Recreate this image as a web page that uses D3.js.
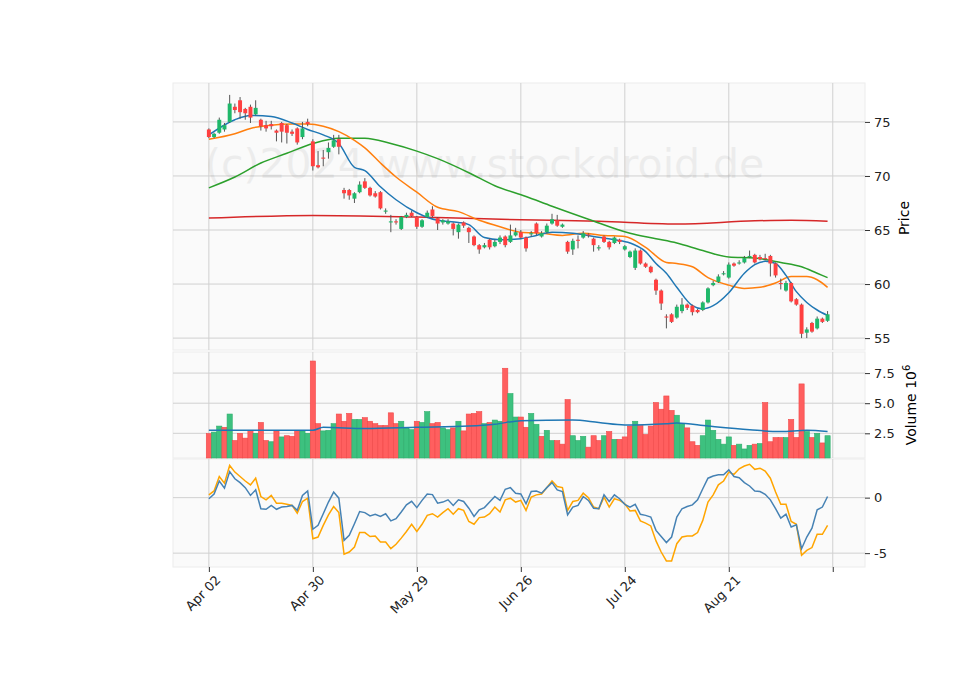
<!DOCTYPE html>
<html>
<head>
<meta charset="utf-8">
<script src="https://cdn.jsdelivr.net/npm/d3@7"></script>
<style>
  body { margin: 0; background: #fff; }
  text { font-family: "DejaVu Sans", sans-serif; }
</style>
</head>
<body>
<svg id="chart" width="960" height="690"></svg>
<script>
// OHLC values per trading day (index 0 = Apr 02)
const opens = [74.3,73.6,74.0,74.3,75.0,76.4,77.0,76.2,76.4,75.7,75.2,74.7,74.8,74.2,74.9,74.7,74.1,74.4,73.6,75.0,
  73.2,71.0,71.7,72.2,72.7,73.4,68.7,68.7,67.9,68.5,69.5,68.9,68.4,68.5,66.7,65.7,65.8,65.1,66.2,66.6,
  66.2,65.3,66.2,66.9,66.1,65.7,65.6,65.6,64.8,65.7,65.2,64.4,63.6,63.4,64.1,63.5,63.9,64.4,63.9,64.5,
  64.8,64.3,64.6,65.6,64.4,64.8,65.6,65.9,65.3,63.9,63.2,64.1,64.3,64.6,64.2,63.3,64.4,63.9,63.8,64.1,
  63.2,62.5,61.5,63.1,61.9,61.6,60.4,59.4,57.0,57.2,56.9,57.5,58.1,58.0,57.6,57.6,58.3,59.9,60.2,60.9,
  60.6,61.9,61.9,62.0,62.5,62.7,62.5,62.4,62.6,61.9,60.1,59.4,60.1,58.6,58.1,55.5,56.4,55.9,56.8,56.6];
const closes = [73.6,73.9,75.2,74.7,76.7,76.1,75.9,75.8,75.4,76.3,74.6,74.4,74.6,74.0,74.1,74.0,73.9,73.1,74.4,74.8,
  70.9,70.8,71.6,72.6,73.3,72.7,68.4,68.2,68.4,69.2,68.9,68.2,68.1,67.0,66.8,65.8,65.7,66.2,66.4,66.3,
  65.3,65.9,66.6,66.3,65.6,65.9,65.8,65.1,65.5,65.4,64.8,63.6,63.2,63.6,63.4,63.9,64.3,63.6,64.5,64.8,
  64.3,63.3,64.7,64.7,64.7,65.4,66.0,65.4,65.5,63.0,64.0,64.0,64.7,64.5,63.6,63.4,63.9,63.4,64.3,63.9,
  63.5,63.0,63.1,61.9,61.6,61.1,59.4,58.2,56.9,56.5,57.9,58.1,57.8,57.4,57.4,58.3,59.6,60.1,60.7,61.0,
  61.8,61.7,62.0,62.4,62.6,62.0,62.3,62.3,61.9,60.8,60.0,60.1,58.4,58.1,55.4,55.8,55.6,56.8,56.5,57.2];
const highs = [74.4,74.0,75.4,74.9,77.5,76.7,77.3,76.3,76.6,77.0,75.3,75.1,75.1,74.3,75.0,74.8,74.3,74.5,75.0,75.3,
  73.4,72.3,72.4,73.1,73.8,73.8,68.9,68.8,68.5,69.5,69.8,69.0,68.6,68.6,67.0,66.4,66.0,66.3,66.6,66.8,
  66.3,66.0,66.8,67.2,66.2,66.0,66.0,65.7,65.6,65.8,65.3,64.5,63.7,63.8,64.2,64.1,64.5,64.5,65.5,65.2,
  65.0,64.4,64.9,65.7,64.9,65.6,66.5,66.4,65.6,64.0,64.2,64.5,64.9,64.7,64.3,63.6,64.5,64.0,64.4,64.2,
  63.6,63.1,63.3,63.2,62.0,61.7,60.5,59.5,57.2,57.3,58.1,58.7,58.2,58.1,57.7,58.4,59.7,60.3,60.9,61.2,
  62.0,62.0,62.2,62.6,63.1,62.8,62.7,62.8,62.7,62.0,60.5,60.3,60.2,58.7,58.2,56.0,56.5,57.0,56.9,57.5];
const lows = [73.5,73.5,73.9,74.1,74.9,75.8,75.3,75.2,74.9,75.6,74.2,74.1,74.3,73.2,73.1,73.0,73.7,72.9,73.4,74.6,
  70.5,70.7,70.9,71.6,72.6,72.0,67.9,67.8,67.5,68.4,68.8,68.1,68.0,66.9,66.5,64.8,65.5,65.0,66.1,66.2,
  65.1,65.2,66.1,66.2,65.0,65.5,65.5,64.5,64.2,65.2,63.8,63.5,62.8,63.3,63.2,63.4,63.7,63.4,63.8,64.4,
  64.2,63.0,64.4,64.5,64.3,64.7,65.5,65.3,65.2,62.8,62.7,63.3,64.2,64.3,63.0,63.1,63.8,63.2,63.7,63.7,
  63.1,62.4,61.3,61.8,61.5,61.0,59.0,57.6,55.9,56.4,56.8,57.3,57.6,57.1,57.3,57.5,58.2,59.8,60.1,60.8,
  60.5,61.6,61.8,61.9,62.4,61.9,62.2,62.2,60.7,60.6,59.5,59.3,58.3,58.0,55.0,55.0,55.5,55.8,56.4,56.5];

// volume in millions
const volumes = [2.47,2.6,3.1,3.0,4.1,1.9,2.5,2.1,2.75,2.5,3.4,1.9,1.8,2.7,2.2,2.3,2.25,2.75,2.7,2.5,
  8.5,3.3,2.7,2.75,3.3,4.1,3.5,4.15,3.65,3.65,3.8,3.5,3.3,3.15,3.15,4.2,3.3,3.5,2.95,2.8,
  3.5,3.4,4.3,3.3,3.4,2.95,2.8,2.95,3.5,2.7,4.1,4.15,4.3,3.3,3.4,3.6,3.5,7.9,5.8,3.85,
  3.85,3.0,4.15,3.25,2.25,2.75,1.9,1.9,1.6,5.3,2.3,1.9,2.25,1.35,2.3,1.9,2.3,2.65,2.0,2.0,
  2.2,3.1,3.5,3.15,2.4,3.1,5.05,4.5,5.6,4.4,4.0,3.3,2.95,1.8,1.5,2.3,3.6,2.75,2.0,1.6,
  2.2,1.5,1.6,1.2,1.5,1.6,1.65,5.05,1.8,2.15,2.15,2.15,3.65,2.15,6.6,2.65,2.15,2.5,1.7,2.3];
// volume bar colours as drawn (1 = up/green)
const volUp = [0,1,1,0,1,0,0,0,0,1,0,0,1,0,1,0,0,0,1,1,
  0,0,1,1,1,0,0,0,1,1,0,0,0,0,0,0,0,1,1,1,
  0,1,1,0,0,1,1,0,1,0,0,0,0,1,0,1,1,0,1,1,
  0,0,1,1,0,1,1,0,0,0,1,1,1,0,0,0,1,0,1,0,
  0,0,1,0,0,0,0,0,0,0,1,1,0,0,0,1,1,1,1,1,
  1,0,1,1,1,0,1,0,0,0,0,1,0,0,0,1,0,1,0,1];
const volMA = [[0,2.75],[20,2.75],[22,3.0],[30,2.9],[40,3.0],[50,3.1],[55,3.25],[60,3.55],[70,3.6],
  [75,3.4],[80,3.2],[88,3.3],[90,3.35],[96,3.1],[104,2.8],[110,2.65],[115,2.75],[119,2.65]];

// moving averages [day index, value]
const ma1 = [[0,73.8],[5,75.2],[8,75.6],[12,75.5],[16,74.9],[19,74.3],[22,73.8],[25,73.0],[28,70.8],[30,70.5],
  [33,69.0],[36,67.8],[40,66.6],[44,65.9],[48,65.7],[50,65.5],[53,64.3],[56,64.1],[60,64.2],[63,64.5],
  [66,64.8],[70,64.7],[74,64.4],[78,64.1],[81,63.8],[84,63.0],[86,61.9],[88,61.0],[90,59.7],[93,58.0],
  [95,57.7],[97,58.0],[100,59.2],[103,61.0],[105,61.8],[107,62.1],[109,61.9],[111,60.8],[113,59.3],
  [115,58.3],[117,57.6],[119,57.1]];
const ma2 = [[0,73.4],[5,73.9],[8,74.4],[12,74.7],[16,74.8],[19,74.8],[22,74.6],[25,74.1],[28,73.3],[30,72.6],
  [33,71.2],[36,69.9],[40,68.5],[44,67.1],[48,66.7],[52,65.9],[56,65.3],[60,64.8],[64,64.7],[68,64.5],
  [72,64.7],[76,64.5],[80,64.4],[84,63.4],[88,62.0],[90,61.9],[93,61.6],[96,60.6],[100,59.9],[103,59.6],
  [106,59.7],[109,60.1],[112,60.7],[115,60.7],[117,60.4],[119,59.7]];
const ma3 = [[0,68.9],[5,69.9],[10,71.2],[15,72.1],[20,73.0],[25,73.5],[30,73.5],[35,73.0],[40,72.3],[44,71.6],
  [50,70.3],[55,69.1],[61,68.1],[66,67.2],[73,66.0],[81,64.7],[86,64.2],[90,63.8],[95,63.1],[100,62.5],
  [105,62.4],[110,62.0],[114,61.6],[117,61.0],[119,60.6]];
const ma4 = [[0,66.1],[20,66.35],[40,66.2],[60,65.95],[75,65.8],[90,65.55],[105,65.85],[112,65.9],[119,65.8]];

// MACD and signal
const macd = [-0.1,0.33,1.5,0.85,2.35,1.7,1.35,0.9,0.2,0.7,-1.0,-1.05,-0.7,-1.05,-0.85,-0.8,-0.7,-1.15,0.2,0.6,
  -2.85,-2.5,-1.45,-0.4,0.5,-0.05,-3.85,-3.4,-2.35,-1.25,-1.35,-1.65,-1.5,-1.7,-1.45,-2.1,-1.9,-1.3,-0.65,-0.33,
  -0.9,-0.25,0.33,0.27,-0.5,-0.4,-0.2,-0.7,-0.2,-0.35,-0.95,-1.7,-1.1,-0.9,-0.4,0.1,-0.25,0.75,0.9,0.4,
  0.33,-0.55,0.55,0.6,0.4,0.9,1.35,0.7,0.55,-1.55,-0.85,-0.7,0.1,-0.25,-0.95,-1.0,0.25,-0.35,0.25,-0.1,
  -0.6,-0.85,-0.6,-1.5,-1.6,-1.75,-2.95,-3.5,-4.05,-3.55,-1.75,-1.0,-0.8,-0.65,-0.2,0.8,1.75,1.95,2.05,2.05,
  2.5,1.9,1.8,1.35,1.05,0.6,0.55,0.3,-0.2,-1.0,-1.85,-1.5,-2.65,-2.45,-4.6,-3.55,-2.75,-1.1,-0.85,0.1];
const signal = [0.25,0.6,1.9,1.3,2.9,2.3,1.9,1.5,1.15,1.75,0.1,-0.2,0.2,-0.5,-0.5,-0.6,-0.7,-1.4,-0.35,-0.05,
  -3.7,-3.55,-2.5,-1.55,-0.8,-1.35,-5.1,-4.9,-4.45,-3.15,-3.15,-3.5,-3.45,-4.0,-4.0,-4.6,-4.2,-3.65,-3.05,-2.4,
  -3.05,-2.4,-1.6,-1.45,-1.75,-1.35,-1.0,-1.5,-1.0,-1.15,-2.15,-2.4,-1.8,-1.75,-1.45,-0.85,-1.3,-0.2,-0.05,-0.4,
  -0.25,-1.15,0.05,0.25,0.33,0.9,1.5,1.0,0.9,-1.15,-0.35,-0.25,0.4,0.0,-0.85,-1.0,0.05,-0.85,-0.1,-0.25,
  -0.55,-1.2,-1.15,-2.1,-2.3,-2.55,-3.9,-4.9,-5.7,-5.7,-4.15,-3.55,-3.45,-3.45,-3.15,-2.05,-0.4,0.25,1.15,1.5,
  2.3,2.1,2.6,2.85,3.0,2.55,2.65,2.4,1.75,0.5,-0.6,-0.6,-2.15,-2.4,-5.2,-4.75,-4.5,-3.3,-3.3,-2.5];

const xTickIdx = [0,20,40,60,80,100,120];
const xTickLabels = ["Apr 02","Apr 30","May 29","Jun 26","Jul 24","Aug 21",""];
const priceTicks = [55,60,65,70,75];
const volTicks = [2.5,5.0,7.5];
const macdTicks = [-5,0];

const upCol = "#1fb86a", downCol = "#ff4040";
const volUpCol = "#3dc17f", volDownCol = "#ff5f5f";

const svg = d3.select("#chart");
const left = 173, right = 865;
const x = d3.scaleLinear().domain([-6.9, 126.2]).range([left, right]);
const bw = (x(1) - x(0));

const panels = [
  { top: 83, bottom: 350, y: d3.scaleLinear().domain([53.9, 78.6]).range([350, 83]), ticks: priceTicks, fmt: d => d },
  { top: 352, bottom: 458, y: d3.scaleLinear().domain([0.45, 9.25]).range([458, 352]), ticks: volTicks, fmt: d3.format(".1f") },
  { top: 459, bottom: 567, y: d3.scaleLinear().domain([-6.25, 3.48]).range([567, 459]), ticks: macdTicks, fmt: d => d }
];

// panels, grid, axes
panels.forEach(p => {
  svg.append("rect").attr("x", left).attr("y", p.top).attr("width", right - left)
    .attr("height", p.bottom - p.top).attr("fill", "#fafafa").attr("stroke", "#ececec");
  const g = svg.append("g");
  g.selectAll(".vg").data(xTickIdx).enter().append("line")
    .attr("x1", d => x(d)).attr("x2", d => x(d)).attr("y1", p.top).attr("y2", p.bottom)
    .attr("stroke", "#d0d0d0").attr("stroke-width", 1);
  g.selectAll(".hg").data(p.ticks).enter().append("line")
    .attr("x1", left).attr("x2", right).attr("y1", d => p.y(d)).attr("y2", d => p.y(d))
    .attr("stroke", "#d0d0d0").attr("stroke-width", 1);
  const ax = svg.append("g").attr("transform", `translate(${right},0)`)
    .call(d3.axisRight(p.y).tickValues(p.ticks).tickFormat(p.fmt).tickSize(5).tickPadding(4));
  ax.select(".domain").remove();
  ax.selectAll("text").style("font-size", "13px").attr("fill", "#222");
  ax.selectAll("line").attr("stroke", "#333");
});

// watermark
svg.append("text").attr("x", 205).attr("y", 178)
  .style("font-size", "41px").attr("fill", "#000").attr("opacity", 0.05)
  .text("(c)2024 www.stockdroid.de");

const pY = panels[0].y, vY = panels[1].y, mY = panels[2].y;
const idx = d3.range(opens.length);

// moving averages
const line = d3.line().x(d => x(d[0])).y(d => pY(d[1])).curve(d3.curveMonotoneX);
[[ma4, "#d62728"], [ma3, "#2ca02c"], [ma2, "#ff7f0e"], [ma1, "#1f77b4"]].forEach(([data, col]) => {
  svg.append("path").datum(data).attr("d", line).attr("fill", "none")
    .attr("stroke", col).attr("stroke-width", 1.5);
});

// candles
const cg = svg.append("g");
cg.selectAll(".wick").data(idx).enter().append("line")
  .attr("x1", i => x(i)).attr("x2", i => x(i))
  .attr("y1", i => pY(highs[i])).attr("y2", i => pY(lows[i]))
  .attr("stroke", "#555").attr("stroke-width", 1);
cg.selectAll(".body").data(idx).enter().append("rect")
  .attr("x", i => x(i) - bw * 0.38).attr("width", bw * 0.76)
  .attr("y", i => pY(Math.max(opens[i], closes[i])))
  .attr("height", i => Math.max(1, Math.abs(pY(opens[i]) - pY(closes[i]))))
  .attr("fill", i => closes[i] >= opens[i] ? upCol : downCol);

// volume
svg.append("g").selectAll("rect").data(idx).enter().append("rect")
  .attr("x", i => x(i) - bw / 2).attr("width", bw)
  .attr("y", i => vY(volumes[i])).attr("height", i => vY(0.45) - vY(volumes[i]))
  .attr("fill", i => volUp[i] ? volUpCol : volDownCol)
  .attr("stroke", i => volUp[i] ? "#2fae6c" : "#f04848").attr("stroke-width", 0.6);
svg.append("path").datum(volMA)
  .attr("d", d3.line().x(d => x(d[0])).y(d => vY(d[1])).curve(d3.curveMonotoneX))
  .attr("fill", "none").attr("stroke", "#1f77b4").attr("stroke-width", 1.5);

// MACD
const mLine = d3.line().x((d, i) => x(i)).y(d => mY(d));
svg.append("path").datum(signal).attr("d", mLine).attr("fill", "none")
  .attr("stroke", "#ffa500").attr("stroke-width", 1.5);
svg.append("path").datum(macd).attr("d", mLine).attr("fill", "none")
  .attr("stroke", "#4682b4").attr("stroke-width", 1.5);

// x axis
const xa = svg.append("g").attr("transform", "translate(0,567)")
  .call(d3.axisBottom(x).tickValues(xTickIdx).tickFormat((d, i) => xTickLabels[i]).tickSize(5));
xa.select(".domain").remove();
xa.selectAll("line").attr("stroke", "#333");
xa.selectAll("text").style("font-size", "13px").attr("fill", "#222")
  .attr("text-anchor", "end").attr("dx", "-0.1em").attr("dy", "0.8em")
  .attr("transform", "rotate(-45)");

// axis labels
svg.append("text").attr("transform", "translate(909,218) rotate(-90)")
  .attr("text-anchor", "middle").style("font-size", "14px").text("Price");
const vl = svg.append("text").attr("transform", "translate(916,405) rotate(-90)")
  .attr("text-anchor", "middle").style("font-size", "14px");
vl.append("tspan").text("Volume  10");
vl.append("tspan").attr("dy", "-6").style("font-size", "10px").text("6");
</script>
</body>
</html>
